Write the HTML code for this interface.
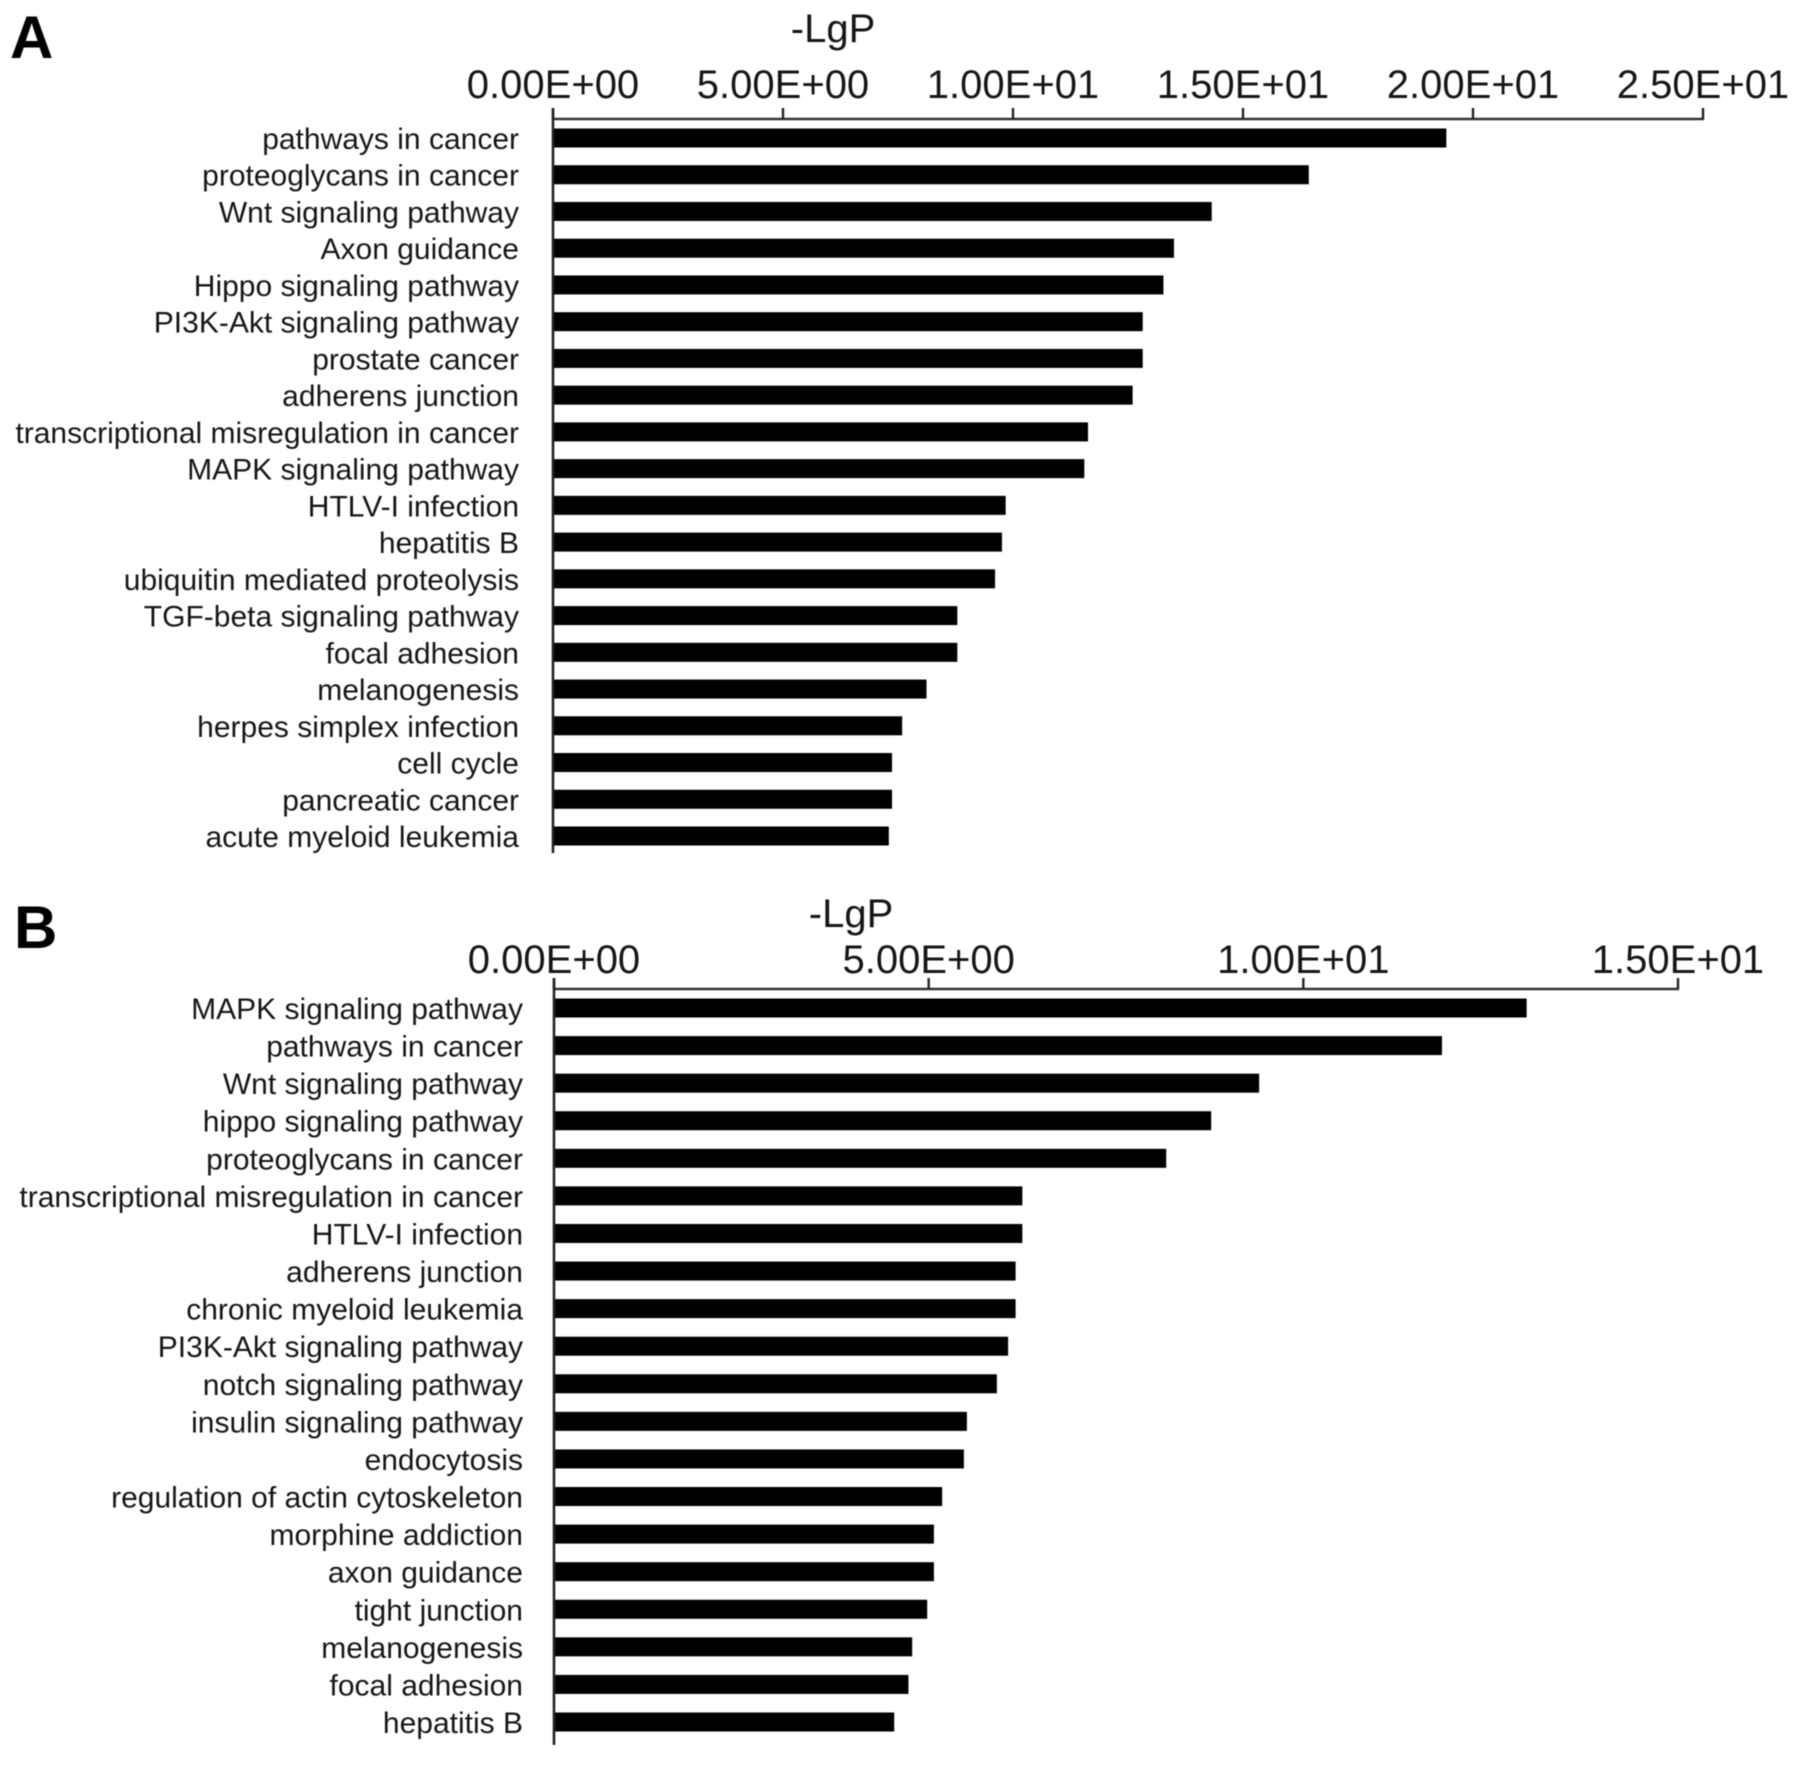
<!DOCTYPE html>
<html>
<head>
<meta charset="utf-8">
<title>KEGG pathway enrichment</title>
<style>
html,body{margin:0;padding:0;background:#fff;}
svg{display:block;}
text{font-family:"Liberation Sans",Arial,sans-serif;fill:#161616;}
</style>
</head>
<body>
<svg id="figure" xmlns="http://www.w3.org/2000/svg" width="1795" height="1765" viewBox="0 0 1795 1765">
<rect width="1795" height="1765" fill="#fff"/>
<g id="panel-a" style="filter:blur(0.5px)">
<text x="10" y="58" font-size="60" font-weight="700" style="fill:#000">A</text>
<text x="833" y="42" font-size="40" text-anchor="middle">-LgP</text>
</g>
<g id="panel-b" style="filter:blur(0.5px)">
<text x="14" y="948" font-size="60" font-weight="700" style="fill:#000">B</text>
<text x="851" y="927" font-size="40" text-anchor="middle">-LgP</text>
</g>
</svg>
<script>
const categoriesA = ["pathways in cancer","proteoglycans in cancer","Wnt signaling pathway","Axon guidance","Hippo signaling pathway","PI3K-Akt signaling pathway","prostate cancer","adherens junction","transcriptional misregulation in cancer","MAPK signaling pathway","HTLV-I infection","hepatitis B","ubiquitin mediated proteolysis","TGF-beta signaling pathway","focal adhesion","melanogenesis","herpes simplex infection","cell cycle","pancreatic cancer","acute myeloid leukemia"];
const valuesA = [19.42,16.43,14.32,13.5,13.27,12.82,12.82,12.6,11.63,11.55,9.84,9.76,9.61,8.79,8.79,8.12,7.59,7.37,7.37,7.3];
const tickValuesA = [0,5,10,15,20,25];
const tickLabelsA = ["0.00E+00","5.00E+00","1.00E+01","1.50E+01","2.00E+01","2.50E+01"];

const categoriesB = ["MAPK signaling pathway","pathways in cancer","Wnt signaling pathway","hippo signaling pathway","proteoglycans in cancer","transcriptional misregulation in cancer","HTLV-I infection","adherens junction","chronic myeloid leukemia","PI3K-Akt signaling pathway","notch signaling pathway","insulin signaling pathway","endocytosis","regulation of actin cytoskeleton","morphine addiction","axon guidance","tight junction","melanogenesis","focal adhesion","hepatitis B"];
const valuesB = [12.98,11.85,9.41,8.77,8.17,6.25,6.25,6.16,6.16,6.06,5.91,5.51,5.47,5.18,5.07,5.07,4.98,4.78,4.73,4.54];
const tickValuesB = [0,5,10,15];
const tickLabelsB = ["0.00E+00","5.00E+00","1.00E+01","1.50E+01"];

const SVG_NS = "http://www.w3.org/2000/svg";

function makeEl(parent, tag) {
  const el = document.createElementNS(SVG_NS, tag);
  parent.appendChild(el);
  return el;
}

function drawPanel(parent, prefix, cats, vals, ticks, tickLabels, g) {
  const xScale = function (v) {
    return g.x0 + (v - ticks[0]) / (ticks[ticks.length - 1] - ticks[0]) * (g.x1 - g.x0);
  };
  const yBand = function (i) {
    return g.firstY + i * (g.lastY - g.firstY) / (cats.length - 1);
  };

  cats.forEach(function (name, i) {
    const bar = makeEl(parent, "rect");
    
    
    bar.setAttribute("x", xScale(0));
    bar.setAttribute("y", yBand(i) - g.barH / 2);
    bar.setAttribute("width", xScale(vals[i]) - xScale(0));
    bar.setAttribute("height", g.barH);
    bar.setAttribute("fill", "#000");

    const label = makeEl(parent, "text");
    
    
    label.setAttribute("x", g.labelX);
    label.setAttribute("y", yBand(i) + 11);
    label.setAttribute("font-size", 30);
    label.setAttribute("text-anchor", "end");
    label.textContent = name;
  });

  const axisX = makeEl(parent, "line");
  
  
  axisX.setAttribute("x1", g.x0);
  axisX.setAttribute("x2", g.x1 + 1);
  axisX.setAttribute("y1", g.axisY);
  axisX.setAttribute("y2", g.axisY);
  axisX.setAttribute("stroke", "#333");
  axisX.setAttribute("stroke-width", 2.4);

  const axisY = makeEl(parent, "line");
  
  
  axisY.setAttribute("x1", g.x0);
  axisY.setAttribute("x2", g.x0);
  axisY.setAttribute("y1", g.axisY - 11);
  axisY.setAttribute("y2", g.bottom);
  axisY.setAttribute("stroke", "#222");
  axisY.setAttribute("stroke-width", 2.6);

  ticks.forEach(function (t, i) {
    const tick = makeEl(parent, "line");
    
    
    tick.setAttribute("x1", xScale(t));
    tick.setAttribute("x2", xScale(t));
    tick.setAttribute("y1", g.axisY - 11);
    tick.setAttribute("y2", g.axisY);
    tick.setAttribute("stroke", "#222");
    tick.setAttribute("stroke-width", 2.4);

    const tl = makeEl(parent, "text");
    
    
    tl.setAttribute("x", xScale(t));
    tl.setAttribute("y", g.tickY);
    tl.setAttribute("font-size", 40);
    tl.setAttribute("text-anchor", "middle");
    tl.textContent = tickLabels[i];
  });
}

drawPanel(document.getElementById("panel-a"), "a", categoriesA, valuesA, tickValuesA, tickLabelsA, {
  x0: 553, x1: 1703, axisY: 119, bottom: 853, firstY: 138, lastY: 836, barH: 19, labelX: 519, tickY: 98
});
drawPanel(document.getElementById("panel-b"), "b", categoriesB, valuesB, tickValuesB, tickLabelsB, {
  x0: 554, x1: 1678, axisY: 989, bottom: 1745, firstY: 1008, lastY: 1722, barH: 19, labelX: 523, tickY: 973
});
</script>
</body>
</html>
